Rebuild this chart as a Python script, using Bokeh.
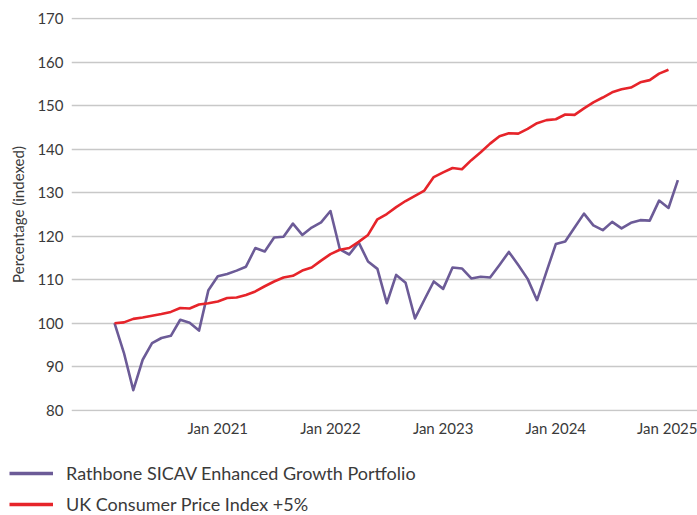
from bokeh.plotting import figure
from bokeh.layouts import column, row
from bokeh.models import ColumnDataSource, FixedTicker, Range1d, Legend, LegendItem
from bokeh.embed import file_html
from bokeh.resources import INLINE

# Months since Feb 2020 (0 = Feb 2020)
fund_months = list(range(61))
cpi_months = list(range(60))

fund_values = [100.0, 93.2, 84.6, 91.6, 95.4, 96.6, 97.1, 100.8, 100.1, 98.3,
               107.6, 110.8, 111.3, 112.1, 113.0, 117.3, 116.5, 119.7, 119.9, 122.9,
               120.3, 122.0, 123.2, 125.8, 117.0, 115.8, 118.6, 114.2, 112.5, 104.6,
               111.1, 109.3, 101.1, 105.4, 109.6, 107.9, 112.8, 112.6, 110.3, 110.7,
               110.5, 113.4, 116.4, 113.4, 110.2, 105.3, 111.8, 118.2, 118.8, 122.0,
               125.2, 122.5, 121.4, 123.3, 121.8, 123.1, 123.7, 123.6, 128.2, 126.5,
               132.9]

cpi_values = [100.0, 100.2, 101.0, 101.3, 101.7, 102.1, 102.6, 103.5, 103.4, 104.3,
              104.6, 105.0, 105.8, 105.9, 106.5, 107.3, 108.5, 109.6, 110.5, 110.9,
              112.1, 112.8, 114.4, 115.9, 116.9, 117.3, 118.7, 120.3, 123.9, 125.1,
              126.7, 128.1, 129.3, 130.5, 133.6, 134.7, 135.7, 135.4, 137.5, 139.3,
              141.3, 143.0, 143.7, 143.6, 144.7, 146.0, 146.7, 146.9, 148.0, 147.9,
              149.4, 150.8, 151.9, 153.1, 153.8, 154.2, 155.4, 155.9, 157.4, 158.3]

x_tick_positions = [11, 23, 35, 47, 59]
x_tick_labels = ["Jan 2021", "Jan 2022", "Jan 2023", "Jan 2024", "Jan 2025"]
y_ticks = [80, 90, 100, 110, 120, 130, 140, 150, 160, 170]

series_names = ["Rathbone SICAV Enhanced Growth Portfolio", "UK Consumer Price Index +5%"]
PURPLE = "#6c5b97"
RED = "#e6242a"
TEXT = "#3a3a3a"
FONT = "Lato"
LW = 2.6

p = figure(width=697, height=445, output_backend="svg", toolbar_location=None,
           x_range=Range1d(-4.58, 62.09), y_range=Range1d(79.7, 170.3),
           min_border_left=71, min_border_right=0, min_border_top=17, min_border_bottom=34)
p.outline_line_color = None
p.background_fill_color = None
p.border_fill_color = "white"

src_f = ColumnDataSource(dict(x=fund_months, y=fund_values))
src_c = ColumnDataSource(dict(x=cpi_months, y=cpi_values))
p.line("x", "y", source=src_f, line_color=PURPLE, line_width=LW, line_join="round")
p.line("x", "y", source=src_c, line_color=RED, line_width=LW, line_join="round")

p.xgrid.grid_line_color = None
p.ygrid.grid_line_color = "#c8c8c8"
p.ygrid.grid_line_width = 1.5
p.ygrid.ticker = FixedTicker(ticks=y_ticks)

p.yaxis.ticker = FixedTicker(ticks=y_ticks)
p.xaxis.ticker = FixedTicker(ticks=x_tick_positions)
p.xaxis.major_label_overrides = {pos: lab for pos, lab in zip(x_tick_positions, x_tick_labels)}

for ax in (p.xaxis[0], p.yaxis[0]):
    ax.axis_line_color = None
    ax.major_tick_line_color = None
    ax.minor_tick_line_color = None
    ax.major_tick_out = 0
    ax.major_tick_in = 0
    ax.major_label_text_font = FONT
    ax.major_label_text_font_size = "15px"
    ax.major_label_text_color = TEXT

p.xaxis.major_label_standoff = 7
p.yaxis.major_label_standoff = 8
p.yaxis.axis_label = "Percentage (indexed)"
p.yaxis.axis_label_text_font = FONT
p.yaxis.axis_label_text_font_size = "15px"
p.yaxis.axis_label_text_font_style = "normal"
p.yaxis.axis_label_text_color = TEXT
p.yaxis.axis_label_standoff = 7

# Legend strip below the chart
lg = figure(width=697, height=70, output_backend="svg", toolbar_location=None,
            x_axis_type=None, y_axis_type=None,
            x_range=Range1d(0, 1), y_range=Range1d(0, 1),
            min_border_left=0, min_border_right=0, min_border_top=0, min_border_bottom=0)
lg.outline_line_color = None
lg.xgrid.visible = False
lg.ygrid.visible = False
lf = lg.line(x=[-5, -4], y=[-5, -4], line_color=PURPLE, line_width=3.5)
lc = lg.line(x=[-5, -4], y=[-5, -4], line_color=RED, line_width=3.5)

legend = Legend(items=[LegendItem(label=series_names[0], renderers=[lf]),
                       LegendItem(label=series_names[1], renderers=[lc])],
                location=(9, 0), orientation="vertical",
                padding=0, margin=0, spacing=9,
                glyph_width=44, glyph_height=20, label_height=20,
                label_standoff=13,
                label_text_font=FONT, label_text_font_size="18px",
                label_text_color=TEXT,
                background_fill_alpha=0, border_line_color=None)
lg.add_layout(legend, "center")

layout = column(p, row(lg, spacing=0), spacing=0)
open("out.html", "w").write(file_html(layout, INLINE))
